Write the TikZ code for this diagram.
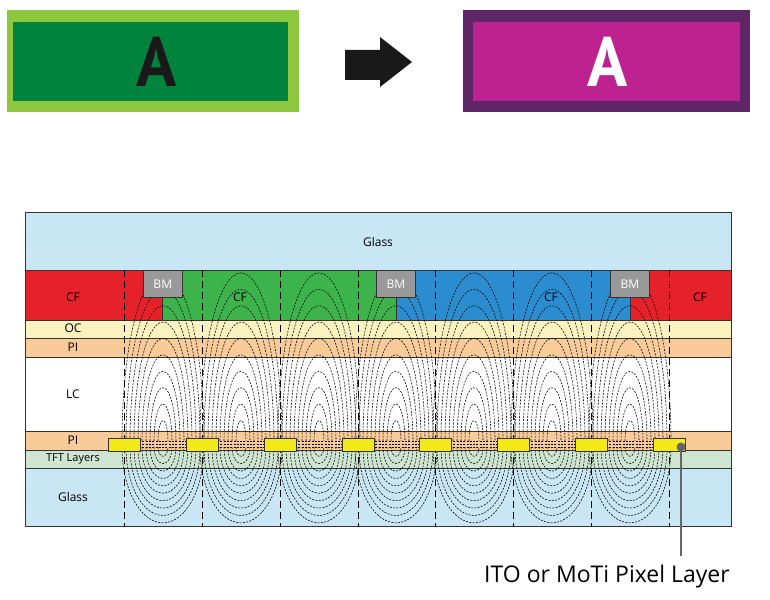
\documentclass[tikz,border=0pt]{standalone}
\usepackage{fontspec}
\setmainfont{Open Sans}
\newfontfamily\bigA{PT Sans}
\begin{document}
\begin{tikzpicture}[x=1pt,y=-1pt,
  lay/.style={draw=black!80,line width=0.6pt},
  lbl/.style={font=\fontsize{12}{12}\selectfont},
  fl/.style={line width=0.55pt,dash pattern=on 2pt off 1.3pt},
  vd/.style={line width=0.6pt,dash pattern=on 7pt off 4pt},
  elec/.style={draw=black!80,fill=ito,line width=0.6pt},
  bm/.style={draw=black!80,fill=black!40,line width=0.6pt}]
\useasboundingbox (0,0) rectangle (770,599);
\definecolor{glass}{HTML}{C9E6F5}\definecolor{cfr}{HTML}{E52229}
\definecolor{cfg}{HTML}{3CB44B}\definecolor{cfb}{HTML}{2B8DCF}
\definecolor{oc}{HTML}{FBF3BF}\definecolor{pi}{HTML}{F9CB98}
\definecolor{tft}{HTML}{CDE5D1}\definecolor{ito}{HTML}{F3E818}
% top
\fill[fill={rgb,255:red,141;green,198;blue,63}] (7,10) rectangle (299,112);
\node[fill={rgb,255:red,0;green,132;blue,61},minimum width=275pt,minimum height=79pt,inner sep=0] (g) at (150.5,61.5) {};
\node[xscale=0.95,font=\bigA\bfseries\fontsize{70}{70}\selectfont,text=black!90] (ga) at (157,62) {A};
\fill[black!90] (345,50) -- (380,50) -- (380,37) -- (412,62) -- (380,87) -- (380,80) -- (345,80) -- cycle;
\fill[fill={rgb,255:red,94;green,38;blue,103}] (463,10) rectangle (750,112);
\node[fill={rgb,255:red,189;green,34;blue,144},minimum width=267pt,minimum height=79pt,inner sep=0] (p) at (606.5,61.5) {};
\node[xscale=0.95,font=\bigA\bfseries\fontsize{70}{70}\selectfont,text=white] (pa) at (608,62) {A};
% layers
\fill[glass] (25,212) rectangle (731,270);
\fill[cfr] (25,270) -- (143,270) -- (143,297) -- (162,297) -- (162,320) -- (25,320) -- cycle;
\fill[cfg] (162,320) -- (162,297) -- (183,297) -- (183,270) -- (376,270) -- (376,297) -- (396,297) -- (396,320) -- cycle;
\fill[cfb] (396,320) -- (396,297) -- (415,297) -- (415,270) -- (610,270) -- (610,297) -- (630,297) -- (630,320) -- cycle;
\fill[cfr] (630,320) -- (630,297) -- (649,297) -- (649,270) -- (731,270) -- (731,320) -- cycle;
\fill[oc] (25,320) rectangle (731,338);
\fill[pi] (25,338) rectangle (731,357);
\fill[white] (25,357) rectangle (731,431);
\fill[pi] (25,431) rectangle (731,450);
\fill[tft] (25,450) rectangle (731,468);
\fill[glass] (25,468) rectangle (731,526);
\draw[black!80,line width=0.6pt] (162,297)--(162,320) (396,297)--(396,320) (630,297)--(630,320);
\foreach \y in {270,320,338,357,431,450,468} \draw[black!80,line width=0.6pt] (25,\y)--(731,\y);
% field lines
\begin{scope}
\clip (25,270) rectangle (731,526);
\foreach \c in {163,241,319,396,474,552,630}{
  \foreach \w in {5,9,...,41}{
    \draw[fl] (\c-\w,441) arc[start angle=180,end angle=360,x radius=\w,y radius=\w*4.1];
    \draw[fl] (\c-\w,447) arc[start angle=180,end angle=0,x radius=\w,y radius=\w*1.85];
  }
  \foreach \yy in {441,444,447} \draw[fl] (\c-24,\yy)--(\c+24,\yy);
}
\end{scope}
% BM
\foreach \x/\n in {143/b1,376/b2,610/b3}{
  \node[bm,minimum width=39pt,minimum height=27pt,inner sep=0,anchor=north west,font=\fontsize{12}{12}\selectfont,text=white] (\n) at (\x,270) {BM};
}
% vertical dashed
\foreach \x in {124,202,280,358,435,513,591,669} \draw[vd] (\x,270)--(\x,526);
% electrodes
\foreach \x [count=\i] in {124,202,280,358,435,513,591,669}
  \node[elec,minimum width=32pt,minimum height=13pt,inner sep=0] (e\i) at (\x,444.5) {};
\draw[black!80,line width=0.8pt] (25,212) rectangle (731,526);
% labels
\node[lbl] (tg) at (378,242) {Glass};
\node[lbl] (c1) at (73,297) {CF};
\node[lbl] (c2) at (240,297) {CF};
\node[lbl] (c3) at (551,297) {CF};
\node[lbl] (c4) at (700,297) {CF};
\node[lbl] (oc) at (73,328) {OC};
\node[lbl] (p1) at (73,347) {PI};
\node[lbl] (lc) at (73,394) {LC};
\node[lbl] (p2) at (73,440) {PI};
\node[lbl,font=\fontsize{11}{11}\selectfont] (tf) at (73,459) {TFT Layers};
\node[lbl] (bg) at (73,497) {Glass};
% pointer
\node[circle,fill=black!60,minimum size=9pt,inner sep=0] (dot) at (681,447) {};
\node[font=\fontsize{23}{23}\selectfont,anchor=center] (ito) at (607,577) {ITO or MoTi Pixel Layer};
\coordinate (pe) at (681,556);
\draw[black!60,line width=2.5pt] (dot.center)--(pe);
\end{tikzpicture}
\end{document}
